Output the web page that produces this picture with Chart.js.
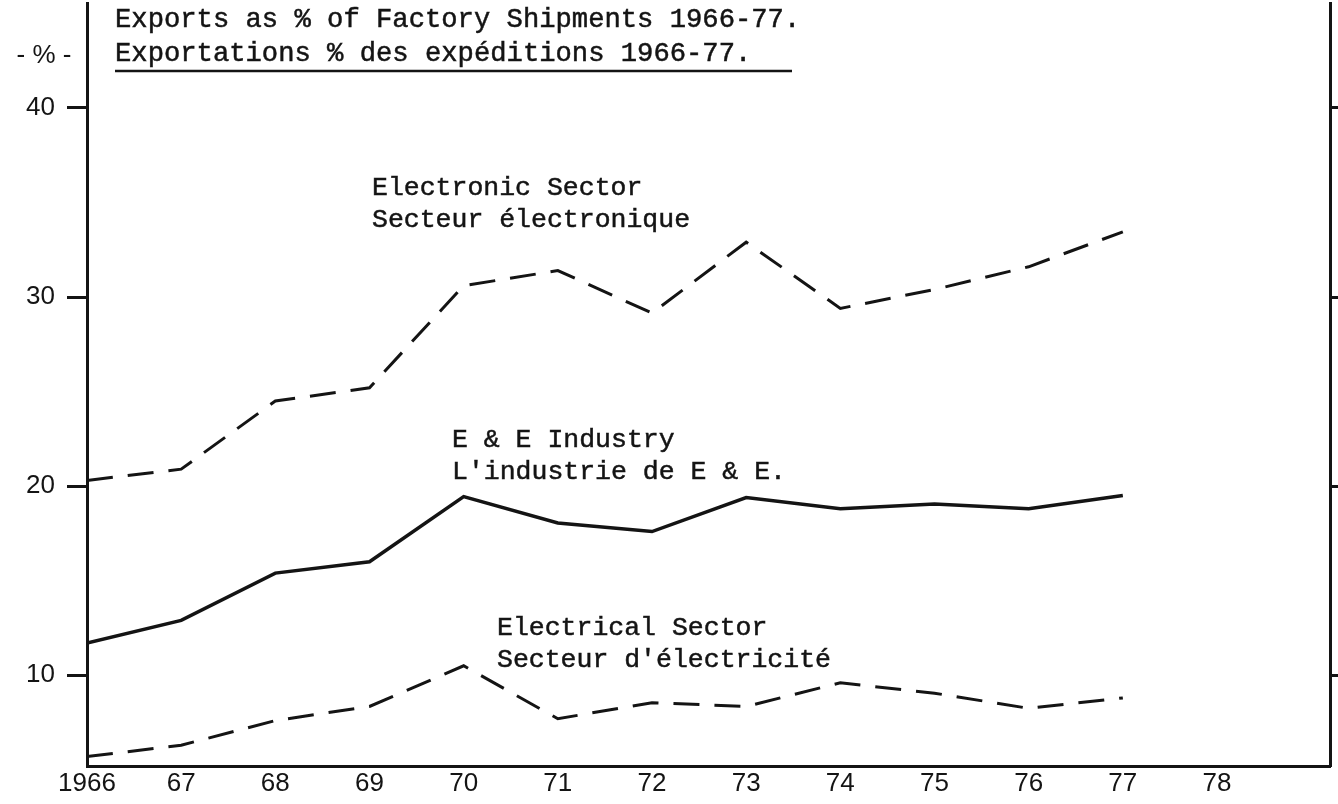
<!DOCTYPE html>
<html>
<head>
<meta charset="utf-8">
<title>Exports as % of Factory Shipments 1966-77</title>
<script src="https://cdn.jsdelivr.net/npm/chart.js@4.4.1/dist/chart.umd.min.js"></script>
<style>
    body { margin: 0; background: #fff; }
    canvas { display: block; }
</style>
</head>
<body>
<canvas id="exportsChart" width="1338" height="804"></canvas>
<script>
// ===== Data =====
const years = [1966, 1967, 1968, 1969, 1970, 1971, 1972, 1973, 1974, 1975, 1976, 1977];
const electronicSector = [20.3, 20.9, 24.5, 25.2, 30.6, 31.4, 29.15, 32.9, 29.4, 30.4, 31.6, 33.45];
const eeIndustry = [11.7, 12.9, 15.4, 16.0, 19.45, 18.05, 17.6, 19.4, 18.8, 19.05, 18.8, 19.5];
const electricalSector = [5.7, 6.3, 7.6, 8.35, 10.5, 7.7, 8.55, 8.35, 9.6, 9.05, 8.25, 8.8];

const xTickYears = [1966, 1967, 1968, 1969, 1970, 1971, 1972, 1973, 1974, 1975, 1976, 1977, 1978];
const yTickValues = [10, 20, 30, 40];

const titleLines = ['Exports as % of Factory Shipments 1966-77.', 'Exportations % des expéditions 1966-77.'];
const seriesLabels = [
    ['Electronic Sector', 'Secteur électronique'],
    ['E & E Industry', "L'industrie de E & E."],
    ['Electrical Sector', "Secteur d'électricité"]
];

// ===== Styling =====
const INK = '#141414';
const MONO = '"Liberation Mono", "DejaVu Sans Mono", monospace';
const tickFont = { family: '"Liberation Sans", Arial, sans-serif', size: 26 };

function toPoints(values) {
    return years.map((yr, i) => ({ x: yr, y: values[i] }));
}

// typed text gets a thin stroke so it reads as heavy as the original
function typeText(ctx, text, x, y) {
    ctx.fillText(text, x, y);
    ctx.strokeText(text, x, y);
}

// Typewritten notes: title, underline, unit mark and the series captions
const notesPlugin = {
    id: 'notes',
    afterDraw(chart) {
        const ctx = chart.ctx;
        ctx.save();
        ctx.fillStyle = INK;
        ctx.strokeStyle = INK;
        ctx.lineWidth = 0.5;
        ctx.textBaseline = 'middle';

        ctx.font = '27.2px ' + MONO;
        typeText(ctx, titleLines[0], 115, 20);
        typeText(ctx, titleLines[1], 115, 54);

        ctx.lineWidth = 2.5;
        ctx.beginPath();
        ctx.moveTo(115, 71);
        ctx.lineTo(792, 71);
        ctx.stroke();

        ctx.lineWidth = 0.5;
        ctx.font = '26.5px ' + MONO;
        const spots = [[372, 188], [452, 440], [497, 628]];
        seriesLabels.forEach((lines, i) => {
            const [x, y] = spots[i];
            typeText(ctx, lines[0], x, y);
            typeText(ctx, lines[1], x, y + 32);
        });

        ctx.font = '26px "Liberation Sans", Arial, sans-serif';
        ctx.textAlign = 'center';
        ctx.fillText('- % -', 44, 56);
        ctx.restore();
    }
};

const lineBase = {
    borderColor: INK,
    borderWidth: 3,
    pointRadius: 0,
    tension: 0,
    fill: false
};

function noPad(scale) {
    scale.paddingTop = 0;
    scale.paddingBottom = 0;
    scale.paddingLeft = 0;
    scale.paddingRight = 0;
}

new Chart(document.getElementById('exportsChart'), {
    type: 'line',
    data: {
        datasets: [
            { ...lineBase, label: 'Electronic Sector', data: toPoints(electronicSector), borderDash: [26, 15] },
            { ...lineBase, label: 'E & E Industry', data: toPoints(eeIndustry), borderWidth: 3.5 },
            { ...lineBase, label: 'Electrical Sector', data: toPoints(electricalSector), borderDash: [26, 15] }
        ]
    },
    options: {
        responsive: false,
        animation: false,
        layout: { padding: { top: 3, left: 0, right: 0, bottom: 0 } },
        plugins: {
            legend: { display: false },
            tooltip: { enabled: false }
        },
        scales: {
            x: {
                type: 'linear',
                min: 1966,
                max: 1979.2,
                afterBuildTicks: scale => { scale.ticks = xTickYears.map(v => ({ value: v })); },
                afterFit: scale => { scale.height = 38; noPad(scale); },
                grid: { display: false, drawTicks: false },
                border: { display: true, width: 3, color: INK },
                ticks: {
                    padding: 2,
                    color: INK,
                    font: tickFont,
                    autoSkip: false,
                    maxRotation: 0,
                    callback: v => (v === 1966 ? '1966' : String(v).slice(2))
                }
            },
            y: {
                min: 5.2,
                max: 45.55,
                afterBuildTicks: scale => { scale.ticks = yTickValues.map(v => ({ value: v })); },
                afterFit: scale => { scale.width = 87; noPad(scale); },
                grid: { drawOnChartArea: false, tickLength: 20, tickWidth: 3, color: INK },
                border: { display: true, width: 3, color: INK },
                ticks: { padding: 12, color: INK, font: tickFont }
            },
            y2: {
                position: 'right',
                min: 5.2,
                max: 45.55,
                afterBuildTicks: scale => { scale.ticks = yTickValues.map(v => ({ value: v })); },
                afterFit: scale => { scale.width = 8; noPad(scale); },
                grid: { drawOnChartArea: false, tickLength: 8, tickWidth: 3, color: INK },
                border: { display: true, width: 3, color: INK },
                ticks: { display: false }
            }
        }
    },
    plugins: [notesPlugin]
});
</script>
</body>
</html>
